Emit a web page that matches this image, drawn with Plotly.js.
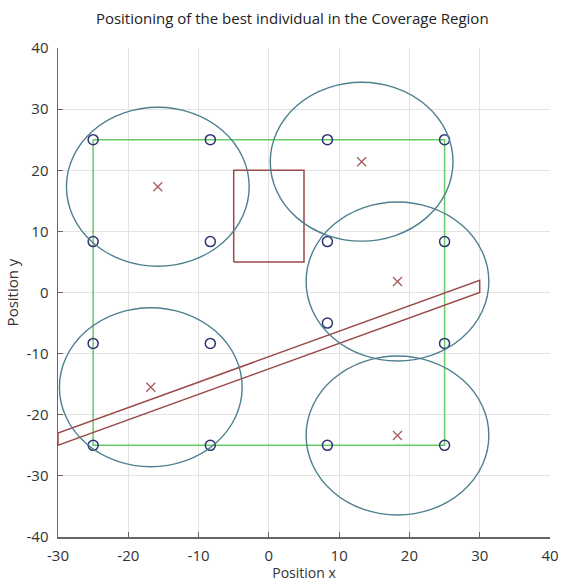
<!DOCTYPE html>
<html>
<head>
<meta charset="utf-8">
<script src="https://cdn.plot.ly/plotly-3.0.1.min.js"></script>
<style>html,body{margin:0;padding:0;background:#fff;}#chart{width:562px;height:582px;}</style>
</head>
<body>
<div id="chart"></div>
<script>
// Sensor / candidate positions (open circles)
const sensorX = [-25, -8.33, 8.33, 25, -25, -8.33, 8.33, 25, -25, -8.33, 8.33, 25, -25, -8.33, 8.33, 25];
const sensorY = [25, 25, 25, 25, 8.33, 8.33, 8.33, 8.33, -8.33, -8.33, -5, -8.33, -25, -25, -25, -25];

// Best individual positions (x markers) and coverage radii
const bestX = [-15.8, 13.2, 18.3, -16.8, 18.3];
const bestY = [17.3, 21.4, 1.8, -15.5, -23.4];
const radius = [13, 13, 13, 13, 13];

// Green coverage region boundary
const regionX = [-25, 25, 25, -25, -25];
const regionY = [25, 25, -25, -25, 25];

// Red obstacles
const obstacle1X = [-5, 5, 5, -5, -5];
const obstacle1Y = [5, 5, 20, 20, 5];
const obstacle2X = [-30, 30, 30, -30, -30];
const obstacle2Y = [-23, 2, 0, -25, -23];

const xTicks = [-30, -20, -10, 0, 10, 20, 30, 40];
const yTicks = [-40, -30, -20, -10, 0, 10, 20, 30, 40];

const circleColor = '#4d7f8f';
const fontFam = 'Open Sans, sans-serif';
const traces = [
  {x: regionX, y: regionY, mode: 'lines', line: {color: '#66cc66', width: 1.5}, hoverinfo: 'skip'},
  {x: obstacle1X, y: obstacle1Y, mode: 'lines', line: {color: '#9b4a4a', width: 1.5}, hoverinfo: 'skip'},
  {x: obstacle2X, y: obstacle2Y, mode: 'lines', line: {color: '#9b4a4a', width: 1.5}, hoverinfo: 'skip'},
  {x: sensorX, y: sensorY, mode: 'markers',
   marker: {symbol: 'circle-open', size: 10, color: '#2e3470', line: {width: 1.5, color: '#2e3470'}}},
  {x: bestX, y: bestY, mode: 'markers',
   marker: {symbol: 'x-thin-open', size: 9, color: '#a55a5a', line: {width: 1.3, color: '#a55a5a'}}}
];

const shapes = bestX.map((cx, i) => ({
  type: 'circle', xref: 'x', yref: 'y',
  x0: cx - radius[i], x1: cx + radius[i],
  y0: bestY[i] - radius[i], y1: bestY[i] + radius[i],
  line: {color: circleColor, width: 1.4}, layer: 'above'
}));

const axisCommon = {
  showgrid: true, gridcolor: '#e3e3e3', gridwidth: 1,
  zeroline: false, showline: true, linecolor: '#666', linewidth: 1.5,
  ticks: 'inside', ticklen: 5, tickcolor: '#666', mirror: false,
  tickfont: {family: fontFam, size: 15, color: '#333'}
};

const layout = {
  width: 562, height: 582,
  margin: {l: 58, r: 12, t: 48, b: 45},
  paper_bgcolor: '#fff', plot_bgcolor: '#fff',
  showlegend: false,
  title: {text: 'Positioning of the best individual in the Coverage Region',
          font: {family: fontFam, size: 15, color: '#222'},
          x: 0.52, xanchor: 'center', y: 0.968, yanchor: 'middle'},
  xaxis: Object.assign({}, axisCommon, {
    range: [-30, 40], tickvals: xTicks, ticktext: xTicks.map(String),
    ticklabelstandoff: 4,
    title: {text: 'Position x', standoff: 3, font: {family: fontFam, size: 14, color: '#333'}}
  }),
  yaxis: Object.assign({}, axisCommon, {
    range: [-40, 40], tickvals: yTicks, ticktext: yTicks.map(String),
    ticklabelstandoff: 5,
    title: {text: 'Position y', standoff: 4, font: {family: fontFam, size: 15, color: '#333'}}
  }),
  shapes: shapes
};

Plotly.newPlot('chart', traces, layout, {displayModeBar: false, staticPlot: true});
</script>
</body>
</html>
